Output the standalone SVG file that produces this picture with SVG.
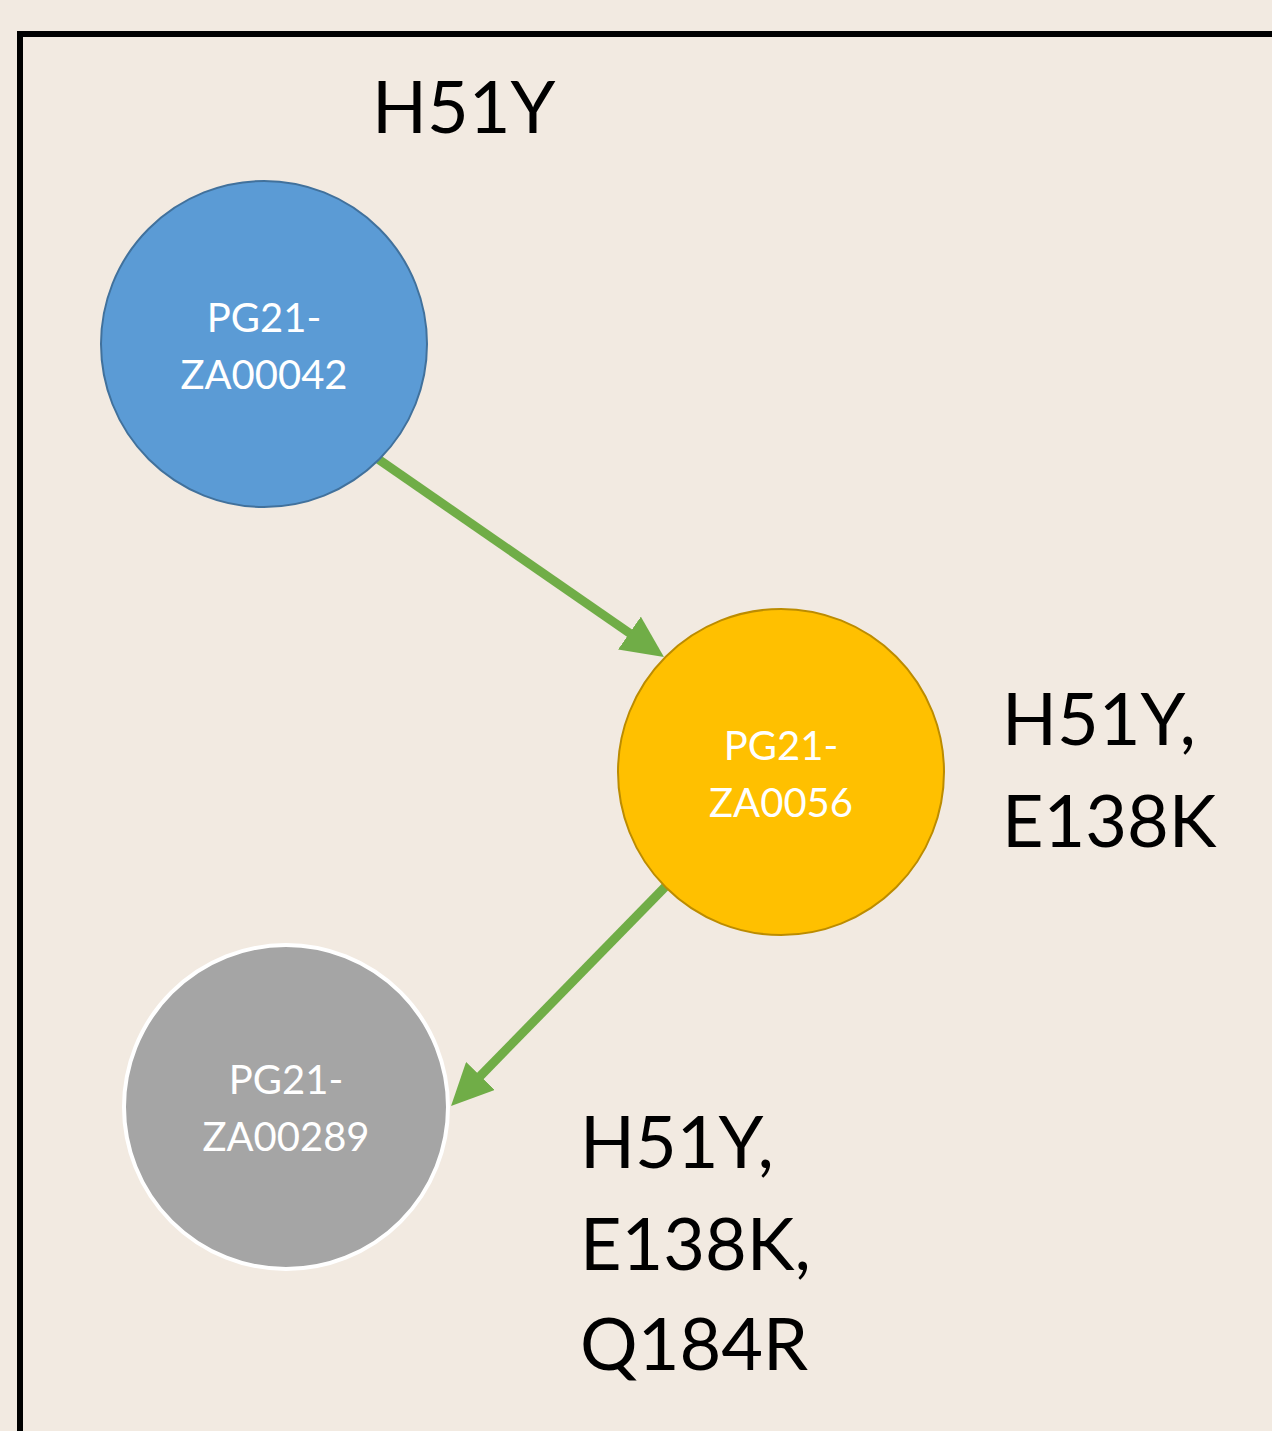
<svg xmlns="http://www.w3.org/2000/svg" width="1272" height="1431" viewBox="0 0 1272 1431">
<style>
.bg{fill:#F2EAE1}
.frame{fill:none;stroke:#000;stroke-width:6}
.node-text{font-family:Lato,"Open Sans","Liberation Sans",sans-serif;font-size:40px;fill:#fff;text-anchor:middle}
.label{font-family:Lato,"Open Sans","Liberation Sans",sans-serif;font-size:72px;fill:#000}
.conn{stroke:#70AD47;stroke-width:9;fill:none}
</style>
<defs>
<marker id="arrow" viewBox="0 0 42 40" refX="12" refY="20" markerWidth="42" markerHeight="40" orient="auto" markerUnits="userSpaceOnUse">
<path d="M0,0 L42,20 L0,40 z" fill="#70AD47"/>
</marker>
</defs>
<rect class="bg" x="0" y="0" width="1272" height="1431"/>
<path class="frame" d="M20,1431 V34 H1272"/>
<g id="connectors">
<line class="conn" x1="378" y1="459" x2="639.3" y2="639.9" marker-end="url(#arrow)"/>
<line class="conn" x1="666" y1="886" x2="472" y2="1084.5" marker-end="url(#arrow)"/>
</g>
<g id="node-za00042">
<circle cx="264" cy="344" r="163" fill="#5B9BD5" stroke="#41719C" stroke-width="2"/>
<text class="node-text" x="264" y="332">PG21-</text>
<text class="node-text" x="264" y="389">ZA00042</text>
</g>
<g id="node-za0056">
<circle cx="781" cy="772" r="163" fill="#FFC000" stroke="#BC8C00" stroke-width="2"/>
<text class="node-text" x="781" y="760">PG21-</text>
<text class="node-text" x="781" y="817">ZA0056</text>
</g>
<g id="node-za00289">
<circle cx="286" cy="1107" r="162" fill="#A5A5A5" stroke="#FFFFFF" stroke-width="4"/>
<text class="node-text" x="286" y="1094">PG21-</text>
<text class="node-text" x="286" y="1151">ZA00289</text>
</g>
<g id="labels">
<text class="label" x="372" y="133">H51Y</text>
<text class="label" x="1002" y="745">H51Y,</text>
<text class="label" x="1002" y="847">E138K</text>
<text class="label" x="580" y="1168">H51Y,</text>
<text class="label" x="580" y="1270">E138K,</text>
<text class="label" x="580" y="1370">Q184R</text>
</g>
</svg>
